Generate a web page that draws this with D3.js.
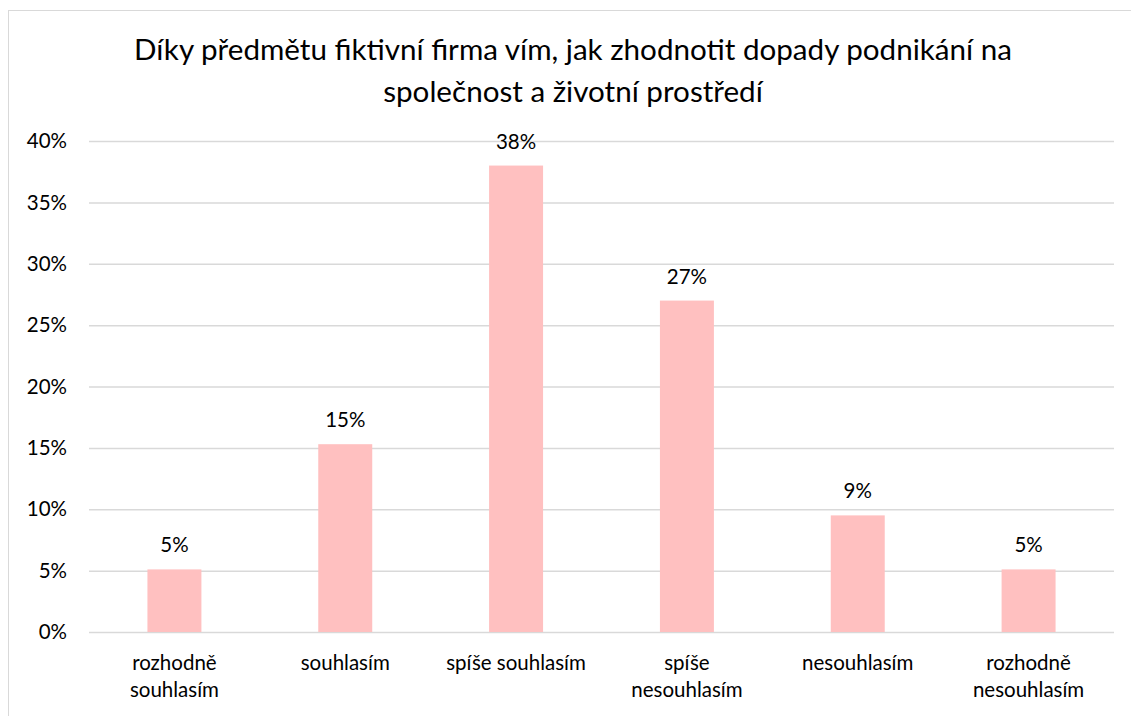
<!DOCTYPE html>
<html><head><meta charset="utf-8">
<script src="https://cdn.jsdelivr.net/npm/d3@7"></script>
<style>body{margin:0;background:#fff}svg{display:block}text{font-family:Lato,"Open Sans",sans-serif;fill:#000}</style>
</head><body>
<svg id="c" width="1131" height="716"></svg>
<script>
const categories = [["rozhodně","souhlasím"],["souhlasím"],["spíše souhlasím"],["spíše","nesouhlasím"],["nesouhlasím"],["rozhodně","nesouhlasím"]];
const values = [0.051, 0.153, 0.38, 0.27, 0.095, 0.051];
const valueLabels = ["5%","15%","38%","27%","9%","5%"];
const yTicks = [0,0.05,0.10,0.15,0.20,0.25,0.30,0.35,0.40];
const titleLines = ["Díky předmětu fiktivní firma vím, jak zhodnotit dopady podnikání na","společnost a životní prostředí"];

const svg = d3.select("#c");
svg.append("rect").attr("x",8.5).attr("y",10.5).attr("width",1140).attr("height",720)
  .attr("fill","#fff").attr("stroke","#d9d9d9");

const pLeft=89,pRight=1114,pTop=141,pBottom=632;
const x = d3.scaleBand().domain(d3.range(categories.length)).range([pLeft,pRight]).paddingInner(0.684).paddingOuter(0.342);
const y = d3.scaleLinear().domain([0,0.40]).range([pBottom,pTop]);

svg.append("g").selectAll("line").data(yTicks).join("line")
  .attr("x1",pLeft).attr("x2",pRight).attr("y1",d=>y(d)+0.5).attr("y2",d=>y(d)+0.5)
  .attr("stroke","#d9d9d9").attr("stroke-width",1.5);

svg.append("g").selectAll("text").data(yTicks).join("text")
  .attr("x",67).attr("y",d=>y(d)).attr("dy","0.35em").attr("text-anchor","end")
  .attr("font-size",20.5).text(d=>d3.format(".0%")(d));

svg.append("g").selectAll("rect").data(values).join("rect")
  .attr("x",(d,i)=>x(i)).attr("width",x.bandwidth())
  .attr("y",d=>y(d)).attr("height",d=>y(0)-y(d)).attr("fill","#ffc0c0");

svg.append("g").selectAll("text").data(values).join("text")
  .attr("x",(d,i)=>x(i)+x.bandwidth()/2).attr("y",d=>y(d)-17)
  .attr("text-anchor","middle").attr("font-size",20.5).text((d,i)=>valueLabels[i]);

const cl = svg.append("g").selectAll("text").data(categories).join("text")
  .attr("x",(d,i)=>x(i)+x.bandwidth()/2).attr("y",670).attr("text-anchor","middle").attr("font-size",20.5);
cl.selectAll("tspan").data(d=>d).join("tspan")
  .attr("x",function(){return this.parentNode.getAttribute("x");})
  .attr("dy",(d,j)=>j===0?0:27).text(d=>d);

svg.append("g").selectAll("text").data(titleLines).join("text")
  .attr("x",573).attr("y",(d,i)=>60+i*42).attr("text-anchor","middle").attr("font-size",29.6).text(d=>d);
</script>
</body></html>
